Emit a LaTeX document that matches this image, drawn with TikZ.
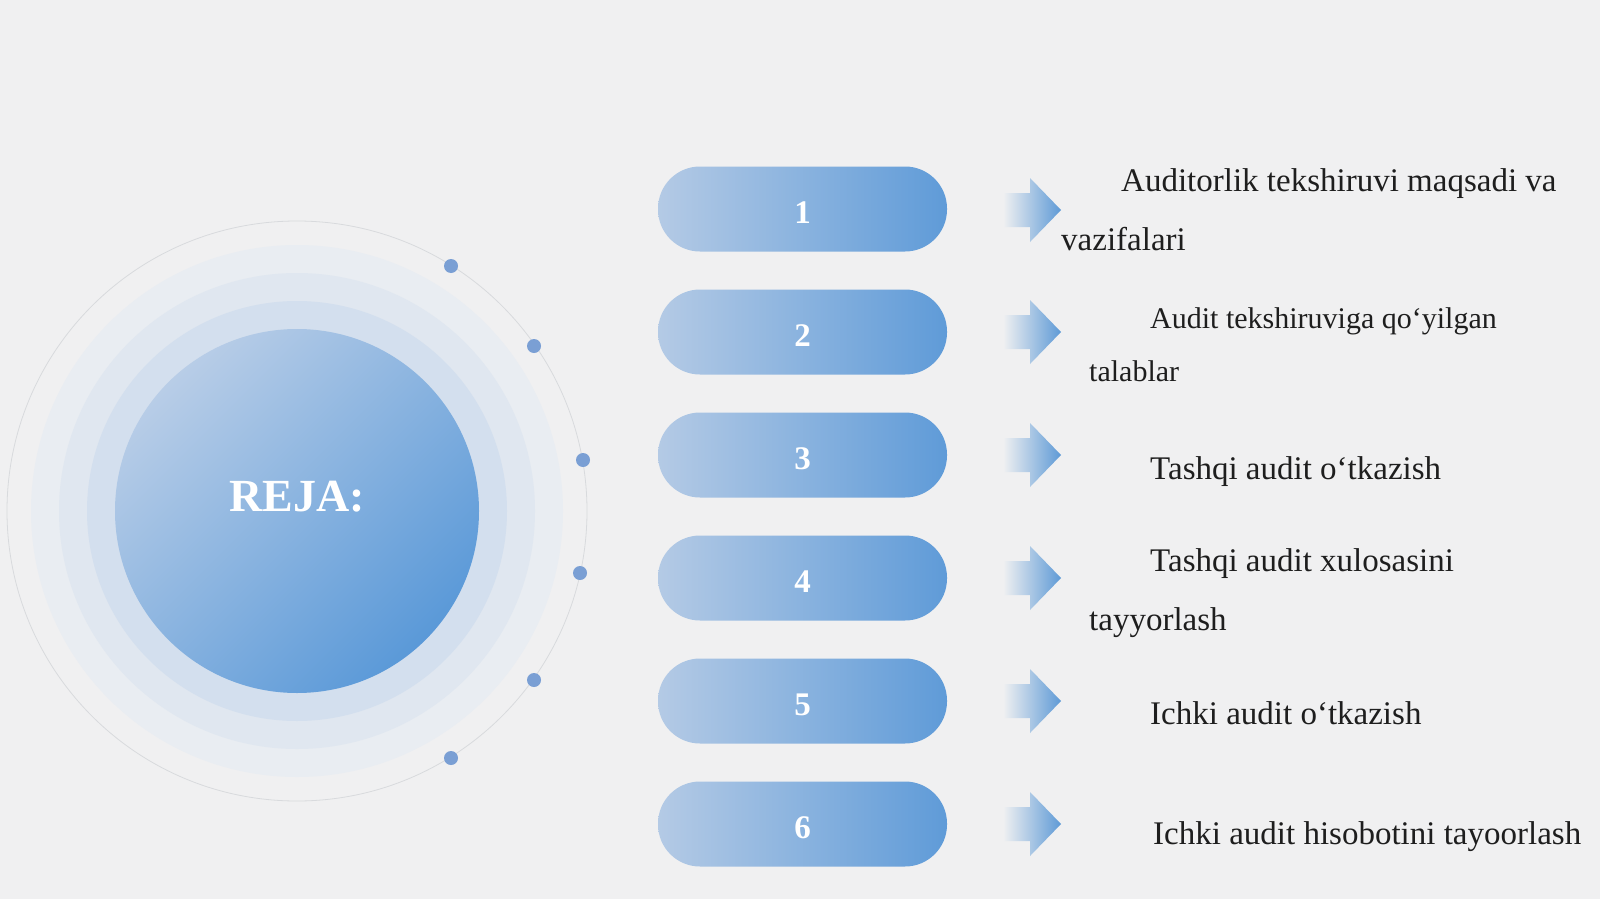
\documentclass[tikz,border=0pt]{standalone}
\usepackage{fontspec}
\setmainfont{Liberation Serif}
\definecolor{bg}{HTML}{F0F0F1}
\definecolor{pillL}{HTML}{B4CAE5}
\definecolor{pillR}{HTML}{5F9BD8}
\definecolor{arrR}{HTML}{5E9AD6}
\definecolor{dotc}{HTML}{7A9FD4}
\definecolor{txt}{HTML}{1E1E1E}
\definecolor{ring1}{HTML}{E9EDF2}
\definecolor{ring2}{HTML}{E0E7F0}
\definecolor{ring3}{HTML}{D3DFEE}
\definecolor{cTop}{HTML}{B8CDE7}
\definecolor{cBot}{HTML}{5A99D8}
\definecolor{orbit}{HTML}{D8DADD}
\begin{document}
\begin{tikzpicture}[x=1pt,y=-1pt,
  pill/.style={rectangle, rounded corners=42pt, minimum width=289pt, minimum height=85pt,
    left color=pillL, right color=pillR, draw=none, text=white,
    font=\fontsize{33}{33}\selectfont\bfseries, inner sep=0pt,
    text height=28pt, text depth=0pt},
  item/.style={anchor=base west, inner sep=0pt, text=txt, font=\fontsize{33}{40}\selectfont},
  itemsmall/.style={item, font=\fontsize{30}{36}\selectfont},
  dot/.style={circle, fill=dotc, minimum size=14pt, inner sep=0pt, draw=none},
  arrowshape/.style={left color=bg, right color=arrR, draw=none}
]
\useasboundingbox (0,0) rectangle (1600,899);
\fill[bg] (0,0) rectangle (1600,899);

% halo rings
\fill[ring1] (297,511) circle[radius=266pt];
\fill[ring2] (297,511) circle[radius=238pt];
\fill[ring3] (297,511) circle[radius=210pt];
\shade[top color=cTop, bottom color=cBot, shading angle=45] (297,511) circle[radius=182pt];
\draw[orbit, line width=0.8pt] (297,511) circle[radius=290pt];

\node[text=white, font=\fontsize{46}{46}\selectfont\bfseries, inner sep=0pt] (reja) at (297,497) {REJA:};

% dots on orbit
\node[dot] (d1) at (451,266) {};
\node[dot] (d2) at (534,346) {};
\node[dot] (d3) at (583,460) {};
\node[dot] (d4) at (580,573) {};
\node[dot] (d5) at (534,680) {};
\node[dot] (d6) at (451,758) {};

% pills
\node[pill] (p1) at (802.5,209) {1};
\node[pill] (p2) at (802.5,332) {2};
\node[pill] (p3) at (802.5,455) {3};
\node[pill] (p4) at (802.5,578) {4};
\node[pill] (p5) at (802.5,701) {5};
\node[pill] (p6) at (802.5,824) {6};

% arrows
\foreach \c in {210,332,455,578,701,824}{
  \path[arrowshape] (1003,\c-17) -- (1030,\c-17) -- (1030,\c-32) -- (1061,\c)
    -- (1030,\c+32) -- (1030,\c+17) -- (1003,\c+17) -- cycle;
}

% texts
\node[item] (t1a) at (1121,191) {Auditorlik tekshiruvi maqsadi va};
\node[item] (t1b) at (1061,250) {vazifalari};
\node[itemsmall] (t2a) at (1150,328) {Audit tekshiruviga qo‘yilgan};
\node[itemsmall] (t2b) at (1089,381) {talablar};
\node[item] (t3) at (1150,479) {Tashqi audit o‘tkazish};
\node[item] (t4a) at (1150,571) {Tashqi audit xulosasini};
\node[item] (t4b) at (1089,630) {tayyorlash};
\node[item] (t5) at (1150,724) {Ichki audit o‘tkazish};
\node[item] (t6) at (1153,844) {Ichki audit hisobotini tayoorlash};
\end{tikzpicture}
\end{document}
